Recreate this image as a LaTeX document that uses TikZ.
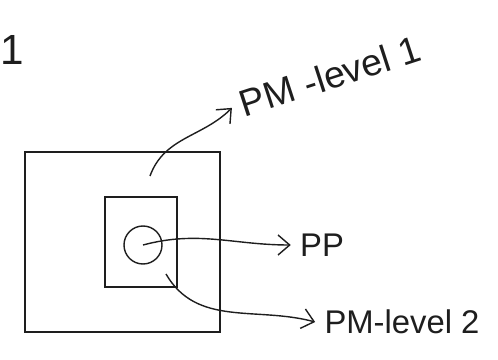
\documentclass[tikz,border=0pt]{standalone}
\usepackage{fontspec}
\setmainfont{Liberation Sans}
\usepackage{tikz}
\usetikzlibrary{positioning, calc, arrows.meta}
\definecolor{ink}{RGB}{30, 30, 30}

\begin{document}
\begin{tikzpicture}[
      x=0.3mm, y=0.3mm,
      line width=1.2pt, draw=ink,
      box/.style={rectangle, draw=ink, line width=1.2pt, inner sep=0pt},
      blob/.style={circle, draw=ink, line width=1.2pt, inner sep=0pt, minimum size=11.4mm},
      tag/.style={font=\fontsize{28}{32}\selectfont, text=ink, inner sep=1pt, outer sep=7pt},
      pointer/.style={ink, line width=1.2pt, -{Straight Barb[length=3.5mm, width=6mm]}}
    ]
      \useasboundingbox (0,0) rectangle (498,359);

      % Sketch number
      \node[tag, font=\fontsize{36}{40}\selectfont] (num) at (12,309) {1};

      % Nested regions
      \node[box, minimum width=58.5mm, minimum height=54mm] (outer) at (122.5,117) {};
      \node[box, minimum width=21.6mm, minimum height=27mm] (inner) at (141,117) {};
      \node[blob] (pp) at (143,114) {};

      % Labels
      \node[tag] (lblpp) at (322,114) {PP};
      \node[tag] (lbltwo) at (402,37) {PM-level 2};
      \node[tag, rotate=18, font=\fontsize{32}{36}\selectfont] (lblone) at (330,283) {PM -level 1};

      % Pointer start points
      \coordinate (srcone) at (150,183);
      \coordinate (srctwo) at (166,85);

      % Pointers
      \draw[pointer] (pp.center) to[out=15, in=180] (lblpp.west);
      \draw[pointer] (srctwo) to[out=-60, in=165] (lbltwo.west);
      \draw[pointer] (srcone) to[out=70, in=225] (lblone.west);
    \end{tikzpicture}
\end{document}
